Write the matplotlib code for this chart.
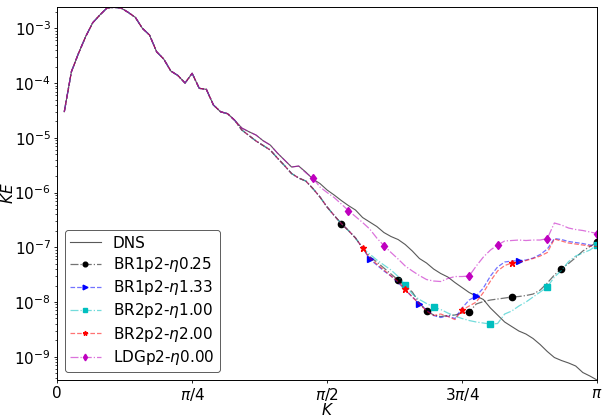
import numpy as np
import matplotlib
matplotlib.use('Agg')
import matplotlib.pyplot as plt
from matplotlib.colors import to_rgba

# numero de onda (76 modos) -> K en [0, pi]
wavenumber = np.arange(1, 77)
n_modes = 76

# log10(KE) leidos de la figura
# tramo comun k=1..25
log_low = [-4.524, -3.793, -3.457, -3.153, -2.898, -2.757, -2.629, -2.616, -2.629,
           -2.708, -2.799, -3.000, -3.122, -3.428, -3.561, -3.780, -3.862, -3.999,
           -3.822, -4.096, -4.115, -4.401, -4.524, -4.560, -4.681]
# DNS / LDG k=26..34
log_upper_mid = [-4.822, -4.889, -4.950, -5.054, -5.132, -5.278, -5.406, -5.534, -5.516]
# DNS k=35..76
log_dns_tail = [-5.626, -5.754, -5.836, -5.954, -6.046, -6.146, -6.238, -6.320, -6.457,
                -6.539, -6.621, -6.731, -6.804, -6.859, -6.950, -7.069, -7.206, -7.288,
                -7.398, -7.480, -7.544, -7.645, -7.736, -7.827, -7.891, -7.955, -8.111,
                -8.238, -8.366, -8.449, -8.531, -8.586, -8.668, -8.778, -8.905, -9.015,
                -9.070, -9.115, -9.170, -9.289, -9.353, -9.426]
# LDG k=35..76
log_ldg_tail = [-5.640, -5.735, -5.900, -6.000, -6.092, -6.210, -6.329, -6.439, -6.548,
                -6.667, -6.832, -6.969, -7.096, -7.215, -7.343, -7.434, -7.517, -7.590,
                -7.617, -7.626, -7.571, -7.535, -7.535, -7.526, -7.343, -7.179, -7.051,
                -6.959, -6.886, -6.877, -6.868, -6.877, -6.868, -6.868, -6.841, -6.557,
                -6.594, -6.649, -6.676, -6.694, -6.721, -6.749]
# esquemas BR k=26..43
log_br_mid = [-4.858, -4.959, -5.059, -5.141, -5.224, -5.370, -5.507, -5.653, -5.735,
              -5.790, -5.927, -6.082, -6.265, -6.420, -6.567, -6.694, -6.831, -7.014]
# k=44..76
log_br1_025_tail = [-7.170, -7.270, -7.380, -7.489, -7.599, -7.709, -7.818, -8.019, -8.165,
                    -8.238, -8.266, -8.247, -8.238, -8.202, -8.184, -8.037, -7.992, -7.964,
                    -7.946, -7.928, -7.909, -7.900, -7.882, -7.855, -7.782, -7.654, -7.507,
                    -7.389, -7.297, -7.188, -7.069, -6.987, -6.905]
log_br1_133_tail = [-7.215, -7.325, -7.434, -7.526, -7.645, -7.782, -7.909, -8.028, -8.147,
                    -8.247, -8.284, -8.257, -8.302, -8.111, -7.964, -7.891, -7.745, -7.526,
                    -7.361, -7.270, -7.252, -7.243, -7.233, -7.197, -7.133, -7.033, -6.841,
                    -6.859, -6.895, -6.914, -6.932, -6.959, -6.987]
log_br2_100_tail = [-7.124, -7.233, -7.325, -7.416, -7.535, -7.690, -7.855, -7.955, -8.028,
                    -8.092, -8.138, -8.202, -8.257, -8.302, -8.339, -8.366, -8.385, -8.403,
                    -8.394, -8.220, -8.165, -8.074, -8.001, -7.909, -7.818, -7.727, -7.544,
                    -7.425, -7.261, -7.160, -7.106, -7.051, -6.959]
log_br2_200_tail = [-7.197, -7.307, -7.416, -7.526, -7.626, -7.763, -7.909, -8.037, -8.165,
                    -8.247, -8.220, -8.266, -8.321, -8.147, -8.074, -8.001, -7.827, -7.617,
                    -7.434, -7.334, -7.288, -7.270, -7.243, -7.206, -7.160, -7.097, -6.850,
                    -6.886, -6.923, -6.941, -6.959, -6.978, -6.987]

ke_dns = 10.0 ** np.array(log_low + log_upper_mid + log_dns_tail)
ke_ldg = 10.0 ** np.array(log_low + log_upper_mid + log_ldg_tail)
ke_br1_025 = 10.0 ** np.array(log_low + log_br_mid + log_br1_025_tail)
ke_br1_133 = 10.0 ** np.array(log_low + log_br_mid + log_br1_133_tail)
ke_br2_100 = 10.0 ** np.array(log_low + log_br_mid + log_br2_100_tail)
ke_br2_200 = 10.0 ** np.array(log_low + log_br_mid + log_br2_200_tail)

K = wavenumber * np.pi / n_modes

xticks = [0, np.pi / 4, np.pi / 2, 3 * np.pi / 4, np.pi]
xticklabels = ['0', r'$\pi/4$', r'$\pi/2$', r'$3\pi/4$', r'$\pi$']

plt.rcParams['font.size'] = 11
plt.rcParams['axes.linewidth'] = 0.7
for eje in ('xtick', 'ytick'):
    plt.rcParams[eje + '.major.size'] = 2.5
    plt.rcParams[eje + '.minor.size'] = 1.5
    plt.rcParams[eje + '.major.width'] = 0.6
    plt.rcParams[eje + '.minor.width'] = 0.5
    plt.rcParams[eje + '.major.pad'] = 2

fig = plt.figure(figsize=(6.02, 4.17), dpi=100)
ax = fig.add_axes([0.095, 0.0887, 0.8967, 0.8937])

ax.semilogy(K, ke_dns, '-', color='0.35', lw=0.8, label='DNS')

series = [
    (ke_br1_025, 'k', '-.', 'o', [39, 47, 51, 57, 63, 70, 75], r'BR1p2-$\eta$0.25'),
    (ke_br1_133, 'b', '--', '>', [43, 50, 58, 64], r'BR1p2-$\eta$1.33'),
    (ke_br2_100, 'c', '-.', 's', [48, 52, 60, 68, 75], r'BR2p2-$\eta$1.00'),
    (ke_br2_200, 'r', '--', '*', [42, 48, 56, 63], r'BR2p2-$\eta$2.00'),
    (ke_ldg, 'm', '-.', 'd', [35, 40, 45, 57, 61, 68, 75], r'LDGp2-$\eta$0.00'),
]
for ke, col, ls, mk, marcas, etiqueta in series:
    ax.semilogy(K, ke, linestyle=ls, color=to_rgba(col, 0.55), lw=0.9,
                marker=mk, markevery=marcas, markersize=4.5,
                markerfacecolor=col, markeredgecolor=col, label=etiqueta)

ax.set_xlim(0, np.pi)
ax.set_ylim(ke_dns.min(), ke_dns.max())
ax.set_xticks(xticks)
ax.set_xticklabels(xticklabels)
ax.set_xlabel(r'$K$', labelpad=-1)
ax.set_ylabel(r'$KE$', labelpad=-1)

leg = ax.legend(loc='lower left', markerscale=0.75, fancybox=True,
                labelspacing=0.28, borderpad=0.35)
leg.get_frame().set_edgecolor('0.2')
leg.get_frame().set_linewidth(0.7)

fig.savefig('out.png', dpi=100)
